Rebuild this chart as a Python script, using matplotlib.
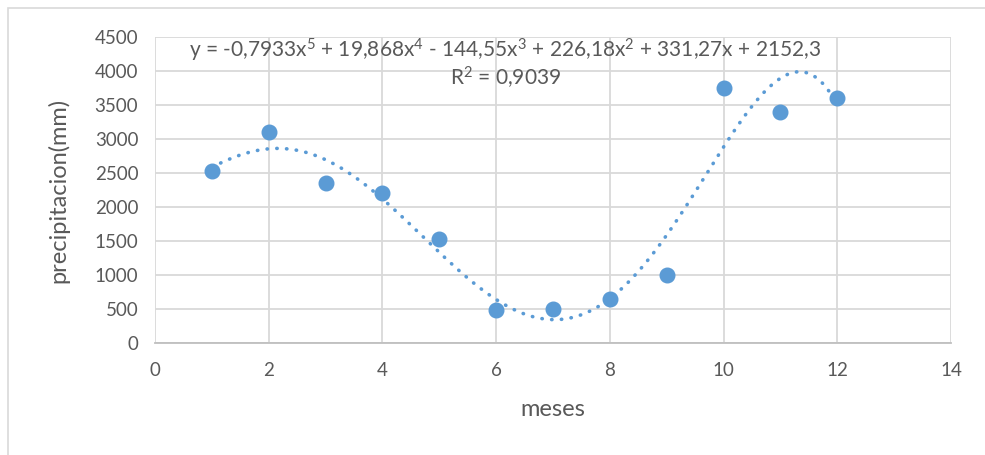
import numpy as np
import matplotlib.pyplot as plt
from matplotlib.patches import Rectangle

# monthly rainfall
meses = [1, 2, 3, 4, 5, 6, 7, 8, 9, 10, 11, 12]
precipitacion = [2530, 3100, 2350, 2200, 1535, 480, 500, 645, 1000, 3745, 3400, 3600]

# polynomial trendline (order 5), highest power first
coef = [-0.7933, 19.868, -144.55, 226.18, 331.27, 2152.3]
r2 = 0.9039

plt.rcParams['font.family'] = ['Lato', 'DejaVu Sans']
plt.rcParams['mathtext.fontset'] = 'custom'
plt.rcParams['mathtext.rm'] = 'Lato'
plt.rcParams['mathtext.it'] = 'Lato:italic'

blue = '#5b9bd5'
grey_txt = '#595959'

fig = plt.figure(figsize=(9.85, 4.55), dpi=100)
fig.patches.append(Rectangle((8 / 985, -0.1), 1.2, (455 - 8) / 455 + 0.1,
                             transform=fig.transFigure, fill=False,
                             edgecolor='#d9d9d9', linewidth=1.2))

ax = fig.add_axes([155 / 985, (455 - 343) / 455, (951 - 155) / 985, (343 - 37) / 455])

xt = np.linspace(1, 12, 300)
ax.plot(xt, np.polyval(coef, xt), color=blue, linewidth=2.6,
        linestyle=(0, (0.1, 2.6)), dash_capstyle='round', zorder=3)
ax.plot(meses, precipitacion, 'o', color=blue, markersize=10.5, zorder=4)

ax.set_xlim(0, 14)
ax.set_ylim(0, 4500)
ax.set_xticks(np.arange(0, 15, 2))
ax.set_yticks(np.arange(0, 4501, 500))
ax.grid(True, color='#d9d9d9', linewidth=1.3)
ax.set_axisbelow(True)
for s in ['top', 'right', 'left']:
    ax.spines[s].set_visible(False)
ax.spines['bottom'].set_color('#bfbfbf')
ax.spines['bottom'].set_linewidth(1.3)
ax.tick_params(length=0, labelsize=13.5, colors=grey_txt, pad=12)
ax.tick_params(axis='x', pad=14)

ax.set_xlabel('meses', fontsize=17, color=grey_txt, labelpad=14)
ax.set_ylabel('precipitacion(mm)', fontsize=17, color=grey_txt, labelpad=18)

eq = (r'y = -0,7933x$^\mathrm{5}$ + 19,868x$^\mathrm{4}$ - 144,55x$^\mathrm{3}$'
      r' + 226,18x$^\mathrm{2}$ + 331,27x + 2152,3')
ax.text(6.16, 4300, eq, fontsize=15, color=grey_txt, ha='center', va='center')
ax.text(6.16, 3890, r'R$^\mathrm{2}$ = ' + str(r2).replace('.', ','), fontsize=15,
        color=grey_txt, ha='center', va='center')

fig.savefig('out.png', dpi=100)
